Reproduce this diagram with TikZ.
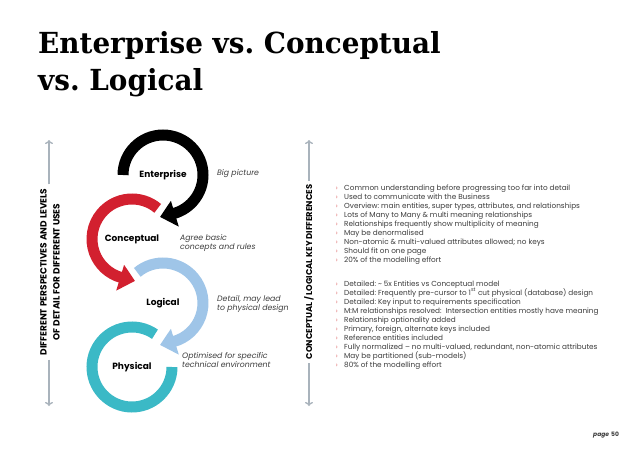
\documentclass[tikz,border=0pt]{standalone}
\usepackage{fontspec}
\setmainfont{Poppins}
\newfontfamily\titlefont{DejaVu Serif}[FakeStretch=0.96]
\usetikzlibrary{arrows.meta}
\frenchspacing
\definecolor{ringred}{HTML}{D2202F}
\definecolor{ringblue}{HTML}{9FC5E8}
\definecolor{ringteal}{HTML}{3BB9C6}
\definecolor{axisgray}{HTML}{A9B3BC}
\definecolor{txtgray}{HTML}{3C3C3C}
\definecolor{bulletred}{HTML}{E07070}
\tikzset{
  ring/.style={line width=11pt},
  lbl/.style={font=\fontsize{9}{10}\selectfont\bfseries, text=black, inner sep=1pt},
  desc/.style={font=\fontsize{7.8}{9.8}\selectfont\itshape, text=txtgray, align=left, inner sep=0pt},
  bul/.style={font=\fontsize{7.3}{8}\selectfont, text=txtgray, inner sep=0pt},
  bmark/.style={font=\fontsize{7}{8}\selectfont, text=bulletred, inner sep=0pt},
  axis/.style={draw=axisgray, line width=1.3pt, -{To[length=4pt,width=8pt]}},
  axlbl/.style={font=\fontsize{9}{13}\selectfont\bfseries, text=black, rotate=90, align=center, inner sep=4pt},
  titletext/.style={font=\titlefont\bfseries\fontsize{29}{34}\selectfont, text=black, inner sep=0pt, anchor=base west}
}
\begin{document}
\begin{tikzpicture}[x=1pt,y=1pt]
\useasboundingbox[fill=white] (0,0) rectangle (638,-452);

% title
\node[titletext] (t1) at (38,-54) {Enterprise vs. Conceptual};
\node[titletext] (t2) at (38,-91) {vs. Logical};

% axes
\node[axlbl] (al) at (50,-272) {DIFFERENT PERSPECTIVES AND LEVELS\\OF DETAIL FOR DIFFERENT USES};
\coordinate (altop) at (49,-140);
\coordinate (albot) at (49,-406);
\draw[axis] (49,0 |- al.east) -- (altop);
\draw[axis] (49,0 |- al.west) -- (albot);

\node[axlbl, font=\fontsize{8.4}{12}\selectfont\bfseries] (ar) at (309,-272) {CONCEPTUAL / LOGICAL KEY DIFFERENCES};
\coordinate (artop) at (309,-140);
\coordinate (arbot) at (309,-406);
\draw[axis] (ar.east) -- (artop);
\draw[axis] (ar.west) -- (arbot);

% rings
\coordinate (cE) at (163,-175);
\coordinate (cC) at (132,-239);
\coordinate (cL) at (163,-303);
\coordinate (cP) at (132,-367);

\draw[ring, black] ([shift={(180:40)}]cE) arc[start angle=180, end angle=-74, radius=40];
\fill[black] ([shift={(-73:27)}]cE) -- ([shift={(-73:54)}]cE) -- ([shift={(-94:42)}]cE) -- cycle;

\draw[ring, ringred] ([shift={(50:40)}]cC) arc[start angle=50, end angle=254, radius=40];
\fill[ringred] ([shift={(-107:27)}]cC) -- ([shift={(-107:54)}]cC) -- ([shift={(-86:42)}]cC) -- cycle;

\draw[ring, ringblue] ([shift={(130:40)}]cL) arc[start angle=130, end angle=-74, radius=40];
\fill[ringblue] ([shift={(-73:27)}]cL) -- ([shift={(-73:54)}]cL) -- ([shift={(-94:42)}]cL) -- cycle;

\draw[ring, ringteal] ([shift={(55:40)}]cP) arc[start angle=55, end angle=360, radius=40];

\node[lbl] (nE) at (cE) {Enterprise};
\node[lbl] (nC) at (cC) {Conceptual};
\node[lbl] (nL) at (cL) {Logical};
\node[lbl] (nP) at (cP) {Physical};

% descriptions
\node[desc, anchor=west] (dE) at (217,-174) {Big picture};
\node[desc, anchor=west] (dC) at (180,-243) {Agree basic\\concepts and rules};
\node[desc, anchor=west] (dL) at (217,-304) {Detail, may lead\\to physical design};
\node[desc, anchor=west] (dP) at (182,-360) {Optimised for specific\\technical environment};

% first list
\foreach \t [count=\i] in {
  Common understanding before progressing too far into detail,
  Used to communicate with the Business,
  {Overview: main entities, super types, attributes, and relationships},
  Lots of Many to Many \& multi meaning relationships,
  Relationships frequently show multiplicity of meaning,
  May be denormalised,
  Non-atomic \& multi-valued attributes allowed; no keys,
  Should fit on one page,
  20\% of the modelling effort}{
  \node[bul, anchor=base west] (a\i) at (344,{-190-9*(\i-1)}) {\t};
  \node[bmark, anchor=base east] (am\i) at (338,{-190-9*(\i-1)}) {›};
}

% second list
\foreach \t [count=\i] in {
  Detailed: {\textasciitilde} 5x Entities vs Conceptual model,
  Detailed: Frequently pre-cursor to 1\textsuperscript{st} cut physical (database) design,
  Detailed: Key input to requirements specification,
  M:M relationships resolved:\ \ Intersection entities mostly have meaning,
  Relationship optionality added,
  {Primary, foreign, alternate keys included},
  Reference entities included,
  {Fully normalized – no multi-valued, redundant, non-atomic attributes},
  May be partitioned (sub-models),
  80\% of the modelling effort}{
  \node[bul, anchor=base west] (b\i) at (344,{-286-9*(\i-1)}) {\t};
  \node[bmark, anchor=base east] (bm\i) at (338,{-286-9*(\i-1)}) {›};
}

% page number
\node[font=\fontsize{6}{7}\selectfont\bfseries\itshape, text=txtgray, anchor=base west, inner sep=0pt] (pg) at (593,-436) {page};
\node[font=\fontsize{6}{7}\selectfont\bfseries, text=txtgray, anchor=base west, inner sep=0pt] (pn) at (611,-436) {50};
\end{tikzpicture}
\end{document}
